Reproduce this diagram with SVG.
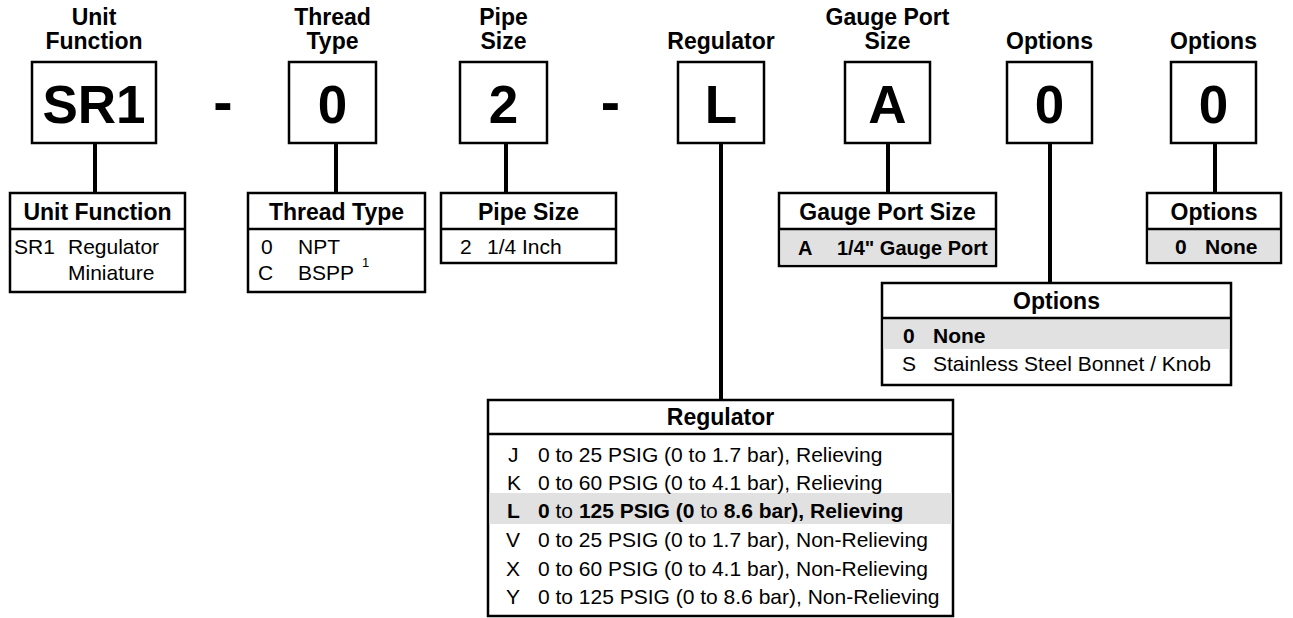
<svg xmlns="http://www.w3.org/2000/svg" width="1293" height="618" viewBox="0 0 1293 618">
<style>
text{font-family:"Liberation Sans",Arial,sans-serif;fill:#000}
.h{font-size:23px;font-weight:bold;text-anchor:middle}
.big{font-size:53px;font-weight:bold;text-anchor:middle}
.t{font-size:23px;font-weight:bold;text-anchor:middle}
.b{font-size:21px}
.bb{font-size:21px;font-weight:bold}
.box{fill:#fff;stroke:#000;stroke-width:2.5}
.sep{stroke:#000;stroke-width:2.5}
.hl{fill:#e1e1e1}
.con line{stroke:#000;stroke-width:4}
</style>
<rect width="1293" height="618" fill="#fff"/>
<g id="connectors" class="con">
<line x1="95" y1="143" x2="95" y2="194"/>
<line x1="336" y1="143" x2="336" y2="194"/>
<line x1="506" y1="143" x2="506" y2="194"/>
<line x1="721" y1="143" x2="721" y2="401"/>
<line x1="888" y1="143" x2="888" y2="194"/>
<line x1="1050" y1="143" x2="1050" y2="284"/>
<line x1="1215" y1="143" x2="1215" y2="194"/>
</g>
<g id="code-unit">
<text class="h" x="94" y="25">Unit</text><text class="h" x="94" y="49">Function</text>
<rect class="box" x="32" y="62" width="124" height="81"/>
<text class="big" x="94" y="123">SR1</text>
</g>
<g id="dash1"><text class="big" x="223" y="122" style="font-size:58px">-</text></g>
<g id="code-thread">
<text class="h" x="332.5" y="25">Thread</text><text class="h" x="332.5" y="49">Type</text>
<rect class="box" x="289" y="62" width="87" height="81"/>
<text class="big" x="332.5" y="123">0</text>
</g>
<g id="code-pipe">
<text class="h" x="503.5" y="25">Pipe</text><text class="h" x="503.5" y="49">Size</text>
<rect class="box" x="460" y="62" width="87" height="81"/>
<text class="big" x="503.5" y="123">2</text>
</g>
<g id="dash2"><text class="big" x="610.5" y="122" style="font-size:58px">-</text></g>
<g id="code-regulator">
<text class="h" x="721" y="49">Regulator</text>
<rect class="box" x="678" y="62" width="86" height="81"/>
<text class="big" x="721" y="123">L</text>
</g>
<g id="code-gauge">
<text class="h" x="887.5" y="25">Gauge Port</text><text class="h" x="887.5" y="49">Size</text>
<rect class="box" x="845" y="62" width="85" height="81"/>
<text class="big" x="887.5" y="123">A</text>
</g>
<g id="code-options1">
<text class="h" x="1049.5" y="49">Options</text>
<rect class="box" x="1007" y="62" width="85" height="81"/>
<text class="big" x="1049.5" y="123">0</text>
</g>
<g id="code-options2">
<text class="h" x="1213.5" y="49">Options</text>
<rect class="box" x="1171" y="62" width="85" height="81"/>
<text class="big" x="1213.5" y="123">0</text>
</g>
<g id="table-unit">
<rect class="box" x="10" y="193" width="175" height="99"/>
<line class="sep" x1="10" y1="229" x2="185" y2="229"/>
<text class="t" x="97.5" y="220">Unit Function</text>
<text class="b" x="14" y="254">SR1</text><text class="b" x="68" y="254">Regulator</text>
<text class="b" x="68" y="280">Miniature</text>
</g>
<g id="table-thread">
<rect class="box" x="248" y="193" width="177" height="99"/>
<line class="sep" x1="248" y1="229" x2="425" y2="229"/>
<text class="t" x="336.5" y="220">Thread Type</text>
<text class="b" x="261" y="254">0</text><text class="b" x="298" y="254">NPT</text>
<text class="b" x="258" y="280">C</text><text class="b" x="298" y="280">BSPP</text>
<text x="362" y="267" style="font-size:13px">1</text>
</g>
<g id="table-pipe">
<rect class="box" x="441" y="193" width="175" height="70"/>
<line class="sep" x1="441" y1="229" x2="616" y2="229"/>
<text class="t" x="528.5" y="220">Pipe Size</text>
<text class="b" x="460" y="254">2</text><text class="b" x="487" y="254">1/4 Inch</text>
</g>
<g id="table-gauge">
<rect class="box" x="779" y="193" width="217" height="73"/>
<rect class="hl" x="780.5" y="229" width="214" height="35.5"/>
<line class="sep" x1="779" y1="229" x2="996" y2="229"/>
<text class="t" x="887.5" y="220">Gauge Port Size</text>
<text class="bb" x="798" y="255" style="font-size:20px">A</text><text class="bb" x="837" y="255" style="font-size:20px">1/4" Gauge Port</text>
</g>
<g id="table-options2">
<rect class="box" x="1147" y="193" width="134" height="70"/>
<rect class="hl" x="1148.5" y="229" width="131" height="32.5"/>
<line class="sep" x1="1147" y1="229" x2="1281" y2="229"/>
<text class="t" x="1214" y="220">Options</text>
<text class="bb" x="1175" y="254">0</text><text class="bb" x="1205" y="254">None</text>
</g>
<g id="table-options1">
<rect class="box" x="882" y="283" width="349" height="102"/>
<rect class="hl" x="883.5" y="318" width="346" height="31"/>
<line class="sep" x1="882" y1="318" x2="1231" y2="318"/>
<text class="t" x="1056.5" y="309">Options</text>
<text class="bb" x="903" y="343">0</text><text class="bb" x="933" y="343">None</text>
<text class="b" x="902" y="371">S</text><text class="b" x="933" y="371">Stainless Steel Bonnet / Knob</text>
</g>
<g id="table-regulator">
<rect class="box" x="488" y="400" width="465" height="216"/>
<rect class="hl" x="489.5" y="493" width="462" height="31"/>
<line class="sep" x1="488" y1="434" x2="953" y2="434"/>
<text class="t" x="720.5" y="425">Regulator</text>
<text class="b" x="508" y="462">J</text><text class="b" x="538" y="462">0 to 25 PSIG (0 to 1.7 bar), Relieving</text>
<text class="b" x="507" y="490">K</text><text class="b" x="538" y="490">0 to 60 PSIG (0 to 4.1 bar), Relieving</text>
<text class="bb" x="507" y="518">L</text><text class="bb" x="538" y="518">0<tspan font-weight="normal"> to </tspan>125 PSIG (0<tspan font-weight="normal"> to </tspan>8.6 bar), Relieving</text>
<text class="b" x="506" y="547">V</text><text class="b" x="538" y="547">0 to 25 PSIG (0 to 1.7 bar), Non-Relieving</text>
<text class="b" x="506" y="576">X</text><text class="b" x="538" y="576">0 to 60 PSIG (0 to 4.1 bar), Non-Relieving</text>
<text class="b" x="506" y="604">Y</text><text class="b" x="538" y="604">0 to 125 PSIG (0 to 8.6 bar), Non-Relieving</text>
</g>
</svg>
